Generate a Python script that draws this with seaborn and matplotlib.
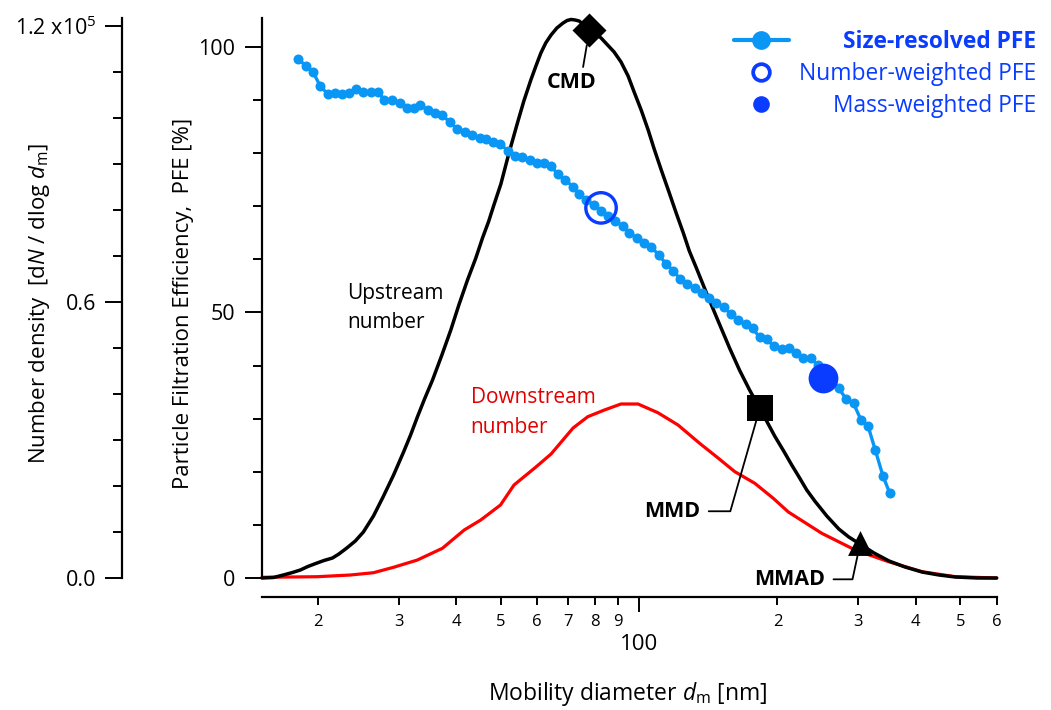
import numpy as np
import pandas as pd
import matplotlib
matplotlib.use("Agg")
import matplotlib.pyplot as plt
import seaborn as sns
from matplotlib.ticker import FixedLocator, FixedFormatter
from matplotlib.lines import Line2D

# ---------------- data ----------------
# Upstream number size distribution  (dN/dlog dm)
up_d = [15.1, 16.0, 16.8, 17.6, 18.3, 19.0, 19.9, 20.6, 21.5, 22.2,
        23.1, 24.1, 25.1, 26.4, 27.7, 29.2, 30.7, 31.8, 32.9, 34.1,
        35.5, 37.2, 38.9, 40.5, 42.3, 44.1, 45.6, 47.0, 48.2, 50.0,
        52.0, 54.4, 56.1, 58.1, 59.6, 61.1, 62.6, 64.3, 66.2, 68.3,
        69.7, 71.1, 72.5, 74.0, 77.8, 82.6, 88.2, 91.3, 94.6, 97.5,
        101.0, 104.6, 107.8, 111.7, 116.3, 120.4, 124.8, 128.6, 133.2, 140.1,
        147.3, 157.3, 165.3, 173.9, 182.8, 189.4, 197.2, 206.3, 214.8, 223.5,
        231.6, 241.1, 256.1, 272.0, 286.0, 302.2, 324.4, 349.8, 379.1, 412.8,
        449.6, 487.3, 544.3, 600.0]
up_n = [0, 110, 650, 1200, 1740, 2500, 3260, 3800, 4350, 5220,
        6520, 8040, 10000, 13480, 17610, 22390, 27390, 31090, 35000, 38910,
        43050, 48480, 53920, 59350, 64790, 69570, 73920, 77450, 80870, 85660,
        92180, 99130, 103700, 108270, 111310, 114140, 116310, 118050, 119570, 120660,
        121200, 121420, 121310, 121090, 119350, 117400, 114350, 112180, 109130, 105660,
        101740, 97400, 93270, 88700, 83700, 79320, 74970, 71060, 67390, 61960,
        56740, 50000, 45220, 40870, 36960, 34130, 30870, 27610, 24570, 21740,
        19130, 16740, 13480, 10650, 8910, 7390, 5440, 3700, 2390, 1300,
        650, 220, 0, 0]

# Downstream number size distribution
dn_d = [15.1, 19.9, 23.5, 26.4, 29.2, 32.9, 37.3, 41.6, 45.2, 49.9,
        53.4, 59.6, 64.3, 71.8, 77.3, 84.0, 91.3, 99.4, 109.8, 121.5,
        135.4, 147.3, 161.5, 178.5, 195.8, 211.2, 249.7, 295.2, 349.1, 412.8,
        487.8, 600.0]
dn_n = [150, 280, 650, 1150, 2330, 3910, 6460, 10430, 12610, 15870,
        20220, 24130, 26960, 32610, 35070, 36520, 37830, 37830, 35940, 33260,
        29280, 26370, 23110, 20590, 17330, 14350, 9720, 6090, 3540, 1370,
        280, 0]

# Size-resolved particle filtration efficiency [%]
pfe_d = [18.1, 18.8, 19.5, 20.2, 21.0, 21.8, 22.6, 23.3, 24.2, 25.1,
         26.1, 27.0, 27.9, 29.0, 30.1, 31.3, 32.3, 33.4, 34.7, 36.0,
         37.3, 38.7, 40.2, 41.7, 43.3, 45.0, 46.3, 48.1, 49.9, 51.7,
         53.7, 55.7, 57.8, 59.9, 62.1, 64.3, 66.5, 69.1, 71.6, 74.1,
         76.6, 79.9, 82.6, 85.4, 88.8, 92.1, 95.2, 98.9, 102.7, 106.2,
         110.3, 114.4, 118.5, 122.9, 127.3, 132.0, 137.3, 142.0, 147.3, 152.8,
         158.3, 164.3, 170.4, 176.5, 183.1, 189.4, 196.5, 204.2, 211.8, 219.4,
         227.8, 236.3, 244.7, 253.4, 262.5, 271.9, 281.8, 292.8, 303.8, 314.7,
         326.5, 339.4, 351.0]
pfe = [97.7, 96.5, 95.3, 92.7, 91.1, 91.3, 91.1, 91.3, 92.0, 91.6,
       91.6, 91.6, 90.0, 90.0, 89.4, 88.5, 88.6, 89.1, 88.1, 87.5,
       87.2, 85.8, 84.6, 83.9, 83.4, 82.9, 82.6, 82.2, 81.7, 80.5,
       79.5, 79.2, 78.7, 78.1, 78.1, 77.5, 76.1, 75.0, 73.7, 72.4,
       71.2, 70.2, 69.2, 68.2, 67.3, 66.2, 65.0, 64.0, 63.1, 62.4,
       60.8, 59.2, 57.9, 56.3, 55.4, 54.6, 53.7, 52.7, 51.7, 51.0,
       49.7, 48.6, 47.8, 47.0, 45.3, 45.0, 43.6, 43.2, 43.3, 42.3,
       41.4, 41.4, 40.1, 38.8, 36.9, 35.7, 33.8, 32.9, 29.8, 28.7,
       24.1, 19.2, 16.0]

# characteristic diameters on the upstream curve
cmd_d, cmd_n = 77.9, 119100
mmd_d, mmd_n = 183.1, 36900
mmad_d, mmad_n = 302.7, 7540
# weighted PFE points
nw_d, nw_pfe = 82.6, 69.7
mw_d, mw_pfe = 251.7, 37.7

x_major = [100]
x_major_lbl = ["100"]
x_minor = [20, 30, 40, 50, 60, 70, 80, 90, 200, 300, 400, 500, 600]
x_minor_lbl = ["2", "3", "4", "5", "6", "7", "8", "9", "2", "3", "4", "5", "6"]
n_major = [0, 60000, 120000]
n_major_lbl = ["0.0", "0.6", r"1.2 x10$^{5}$"]
n_minor = [10000, 20000, 30000, 40000, 50000, 70000, 80000, 90000, 100000, 110000]
p_major = [0, 50, 100]
p_minor = [10, 20, 30, 40, 60, 70, 80, 90]
legend_labels = ["Size-resolved PFE", "Number-weighted PFE", "Mass-weighted PFE"]

# ---------------- style ----------------
sns.set_theme(style="ticks", rc={"axes.edgecolor": "black", "xtick.color": "black",
                                 "ytick.color": "black", "text.color": "black",
                                 "axes.labelcolor": "black"})
plt.rcParams['font.family'] = ['Open Sans', 'DejaVu Sans']
plt.rcParams['mathtext.fontset'] = 'custom'
plt.rcParams['mathtext.rm'] = 'Open Sans'
plt.rcParams['mathtext.it'] = 'Open Sans:italic'
plt.rcParams['mathtext.bf'] = 'Open Sans:bold'

LB = "#0A96F5"   # light blue
DB = "#0A3CFF"   # deep blue
RED = "#FF0000"
RED_TXT = "#E00000"

W, H = 1051, 710
fig = plt.figure(figsize=(W / 100, H / 100), dpi=100)
rect = [262 / W, (H - 578) / H, (997 - 262) / W, (578 - 18) / H]
ax = fig.add_axes(rect)
ax.set_xscale('log')

df_up = pd.DataFrame({"d": up_d, "n": up_n})
df_dn = pd.DataFrame({"d": dn_d, "n": dn_n})
df_pfe = pd.DataFrame({"d": pfe_d, "pfe": pfe})

sns.lineplot(data=df_up, x="d", y="n", ax=ax, color="black", lw=2.5, estimator=None,
             sort=False, clip_on=False, zorder=3)
sns.lineplot(data=df_dn, x="d", y="n", ax=ax, color=RED, lw=2.3, estimator=None,
             sort=False, clip_on=False, zorder=2)

sns.scatterplot(x=[cmd_d], y=[cmd_n], ax=ax, marker="D", s=300, color="black",
                linewidth=0, zorder=6, clip_on=False)
sns.scatterplot(x=[mmd_d], y=[mmd_n], ax=ax, marker="s", s=330, color="black",
                linewidth=0, zorder=6)
sns.scatterplot(x=[mmad_d], y=[mmad_n], ax=ax, marker="^", s=320, color="black",
                linewidth=0, zorder=6)

ax.set_xlim(15.1, 601)
ax.set_ylim(0, 121740)

# PFE axis (drawn on top)
ax2 = ax.twinx()
sns.lineplot(data=df_pfe, x="d", y="pfe", ax=ax2, color=LB, lw=2.4, marker="o",
             markersize=7.2, markeredgewidth=0, estimator=None, sort=False)
sns.scatterplot(x=[nw_d], y=[nw_pfe], ax=ax2, s=480, facecolor="none", edgecolor=DB,
                linewidth=2.4, zorder=5)
sns.scatterplot(x=[mw_d], y=[mw_pfe], ax=ax2, s=460, color=DB, linewidth=0, zorder=5)
ax2.set_ylim(0, 105.46)
ax2.set_xlim(15.1, 601)

# ---------------- axes styling ----------------
for s in ["top", "right"]:
    ax.spines[s].set_visible(False)
for s in ["top", "right", "bottom"]:
    ax2.spines[s].set_visible(False)
ax2.spines["left"].set_visible(True)
ax.spines["left"].set_position(("outward", 140 * 0.72))
ax.spines["bottom"].set_position(("outward", 19 * 0.72))
for sp in [ax.spines["left"], ax.spines["bottom"], ax2.spines["left"]]:
    sp.set_linewidth(1.6)

# x axis
ax.xaxis.set_major_locator(FixedLocator(x_major))
ax.xaxis.set_major_formatter(FixedFormatter(x_major_lbl))
ax.xaxis.set_minor_locator(FixedLocator(x_minor))
ax.xaxis.set_minor_formatter(FixedFormatter(x_minor_lbl))
ax.tick_params(axis="x", which="major", direction="out", length=11, width=1.4,
               pad=16, labelsize=16)
ax.tick_params(axis="x", which="minor", direction="out", length=6, width=1.4,
               pad=6, labelsize=12)

# number density axis (outer left)
ax.yaxis.set_major_locator(FixedLocator(n_major))
ax.yaxis.set_major_formatter(FixedFormatter(n_major_lbl))
ax.yaxis.set_minor_locator(FixedLocator(n_minor))
ax.tick_params(axis="y", which="major", direction="out", length=12.5, width=1.4,
               pad=6, labelsize=15.5)
ax.tick_params(axis="y", which="minor", direction="out", length=6.5, width=1.4)

# PFE axis (inner left)
ax2.yaxis.tick_left()
ax2.yaxis.set_label_position("left")
ax2.yaxis.set_major_locator(FixedLocator(p_major))
ax2.yaxis.set_major_formatter(FixedFormatter([str(v) for v in p_major]))
ax2.yaxis.set_minor_locator(FixedLocator(p_minor))
ax2.tick_params(axis="y", which="major", direction="out", length=12.5, width=1.4,
                pad=7, labelsize=15.5, left=True, right=False, labelleft=True, labelright=False)
ax2.tick_params(axis="y", which="minor", direction="out", length=6.5, width=1.4,
                left=True, right=False)

# labels
ax.set_ylabel(r"Number density  [d$\it{N}$ / dlog $\it{d}_\mathrm{m}$]", fontsize=16)
ax.yaxis.set_label_coords(-0.286, 0.49)
ax2.set_ylabel("Particle Filtration Efficiency,  PFE [%]", fontsize=16)
ax2.yaxis.set_label_coords(-0.092, 0.49)
ax.set_xlabel(r"Mobility diameter $\it{d}_\mathrm{m}$ [nm]", fontsize=16.5)
ax.xaxis.set_label_coords(0.498, -0.183)
ax2.set_xlabel("")

# curve labels
ax.text(0.1156, 0.482, "Upstream\nnumber", transform=ax.transAxes, fontsize=15,
        ha="left", va="center", linespacing=1.55, color="black")
ax.text(0.284, 0.296, "Downstream\nnumber", transform=ax.transAxes, fontsize=15,
        ha="left", va="center", linespacing=1.55, color=RED_TXT)

# annotations of characteristic diameters
akw = dict(fontsize=15.5, fontweight="bold", color="black", textcoords="offset pixels",
           ha="center", va="center", zorder=4)
ax.annotate("CMD", xy=(cmd_d, cmd_n), xytext=(-18, -52),
            arrowprops=dict(arrowstyle="-", color="black", lw=1.3, shrinkA=1,
                            shrinkB=11, relpos=(0.72, 1.0)), **akw)
ax.annotate("MMD", xy=(mmd_d, mmd_n), xytext=(-88, -103),
            arrowprops=dict(arrowstyle="-", color="black", lw=1.3, shrinkA=4, shrinkB=6,
                            relpos=(1.0, 0.5),
                            connectionstyle="angle,angleA=0,angleB=74,rad=0"), **akw)
ax.annotate("MMAD", xy=(mmad_d, mmad_n), xytext=(-71, -36),
            arrowprops=dict(arrowstyle="-", color="black", lw=1.3, shrinkA=4, shrinkB=6,
                            relpos=(1.0, 0.5),
                            connectionstyle="angle,angleA=0,angleB=78,rad=0"), **akw)

# ---------------- legend (text right-aligned) ----------------
handles = [Line2D([], [], color=LB, lw=3, marker="o", ms=13.5, mew=0),
           Line2D([], [], ls="none", marker="o", ms=12, mfc="none", mec=DB, mew=2.7),
           Line2D([], [], ls="none", marker="o", ms=12, color=DB, mew=0)]
leg = ax2.legend(handles, legend_labels, loc="upper right",
                 bbox_to_anchor=(1036 / W, (H - 30) / H), bbox_transform=fig.transFigure,
                 frameon=False, handlelength=2.4, handletextpad=0.45, labelspacing=0.36,
                 fontsize=16.4, borderpad=0, borderaxespad=0)
for t in leg.get_texts():
    t.set_color(DB)
leg.get_texts()[0].set_fontweight("bold")

fig.canvas.draw()
r = fig.canvas.get_renderer()
ws = [t.get_window_extent(r).width for t in leg.get_texts()]
mx = max(ws)
col = leg._legend_handle_box.get_children()[0]
for hp, w in zip(col.get_children(), ws):
    hp.sep += (mx - w) * 72.0 / fig.dpi

fig.savefig("out.png", dpi=100)
